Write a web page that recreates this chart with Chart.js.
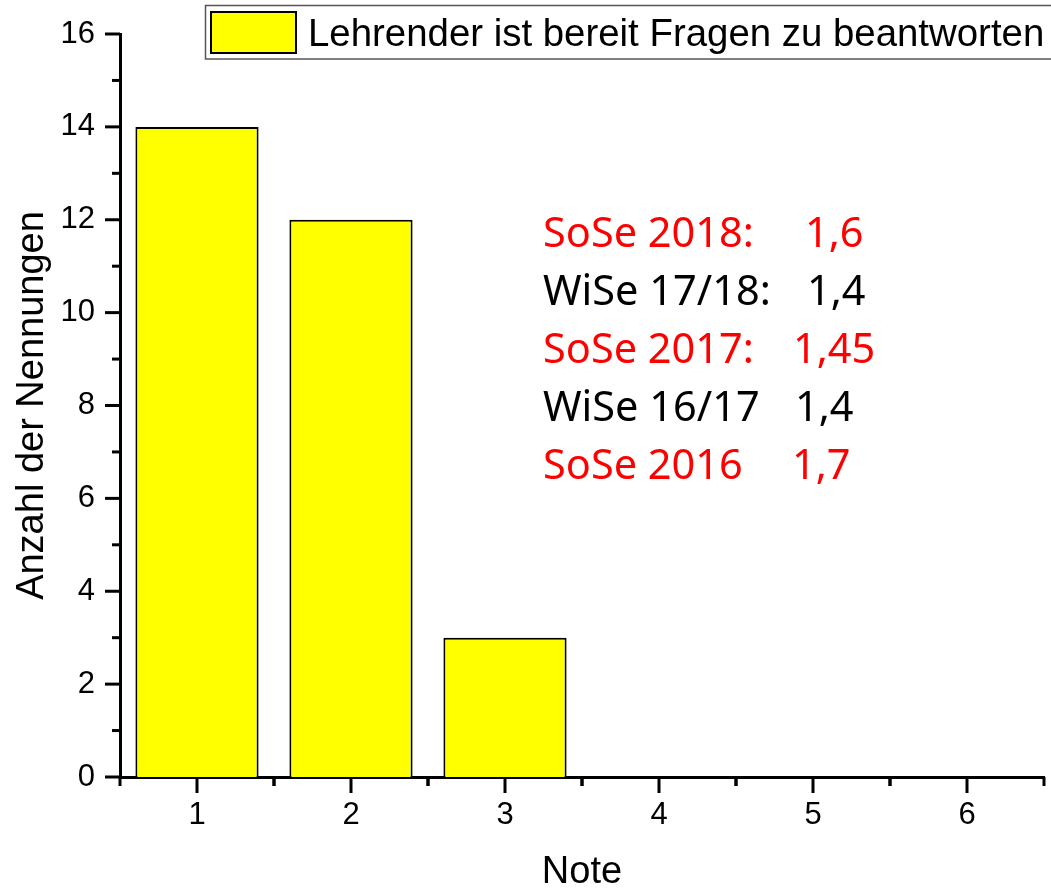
<!DOCTYPE html>
<html>
<head>
<meta charset="utf-8">
<script src="https://cdn.jsdelivr.net/npm/chart.js@4"></script>
<style>
  html, body { margin: 0; padding: 0; background: #fff; }
  #wrap { width: 1051px; height: 893px; }
</style>
</head>
<body>
<div id="wrap"><canvas id="noteChart" width="1051" height="893"></canvas></div>
<script>
// ─── Data ────────────────────────────────────────────
const notes = ["1", "2", "3", "4", "5", "6"];
const counts = [14, 12, 3, 0, 0, 0];
const yMin = 0;
const yMax = 16;
const yStep = 2;
const seriesLabel = "Lehrender ist bereit Fragen zu beantworten";
const xTitle = "Note";
const yTitle = "Anzahl der Nennungen";

// semester averages written inside the plot
const semesters = ["SoSe 2018:", "WiSe 17/18:", "SoSe 2017:", "WiSe 16/17", "SoSe 2016"];
const averages = ["1,6", "1,4", "1,45", "1,4", "1,7"];
const noteColors = ["#ff0000", "#000000", "#ff0000", "#000000", "#ff0000"];

const AXIS_FONT = "'Liberation Sans', Arial, sans-serif";

// ─── Ticks (major + minor), drawn outwards ───────────
const axisTicks = {
  id: "axisTicks",
  afterDraw(chart) {
    const { ctx, scales: { x, y }, chartArea } = chart;
    ctx.save();
    ctx.strokeStyle = "#000";
    ctx.lineWidth = 3;
    ctx.lineCap = "butt";

    // y axis
    for (let v = yMin; v <= yMax; v += yStep / 2) {
      const py = y.getPixelForValue(v);
      const len = v % yStep === 0 ? 15 : 8;
      ctx.beginPath();
      ctx.moveTo(chartArea.left, py);
      ctx.lineTo(chartArea.left - len, py);
      ctx.stroke();
    }

    // x axis: major at each category, minor halfway between
    const half = (x.getPixelForValue(1) - x.getPixelForValue(0)) / 2;
    notes.forEach((n, i) => {
      const px = x.getPixelForValue(i);
      ctx.beginPath();
      ctx.moveTo(px, chartArea.bottom);
      ctx.lineTo(px, chartArea.bottom + 16);
      ctx.stroke();
      [px - half, px + half].forEach(mx => {
        ctx.beginPath();
        ctx.moveTo(mx, chartArea.bottom);
        ctx.lineTo(mx, chartArea.bottom + 9);
        ctx.stroke();
      });
    });
    ctx.restore();
  }
};

// ─── Legend box + annotation text ────────────────────
const extras = {
  id: "extras",
  afterDraw(chart) {
    const { ctx } = chart;
    ctx.save();

    // legend frame (runs off the right edge)
    ctx.strokeStyle = "#555";
    ctx.lineWidth = 1.5;
    ctx.strokeRect(205.5, 5.5, 900, 53.5);

    ctx.fillStyle = "#ffff00";
    ctx.fillRect(211, 12, 85, 41);
    ctx.strokeStyle = "#000";
    ctx.lineWidth = 2;
    ctx.strokeRect(211, 12, 85, 41);

    ctx.fillStyle = "#000";
    ctx.font = "38.4px " + AXIS_FONT;
    ctx.textBaseline = "alphabetic";
    ctx.textAlign = "left";
    ctx.fillText(seriesLabel, 308, 46);

    // semester notes
    const valueX = [805, 807, 793, 795, 792];
    ctx.font = "41.5px 'Noto Sans', 'Open Sans', sans-serif";
    semesters.forEach((s, i) => {
      const base = 247 + i * 58;
      ctx.fillStyle = noteColors[i];
      ctx.fillText(s, 543, base);
      ctx.fillText(averages[i], valueX[i], base);
    });
    ctx.restore();
  }
};

// ─── Chart ───────────────────────────────────────────
const ctx = document.getElementById("noteChart").getContext("2d");
new Chart(ctx, {
  type: "bar",
  data: {
    labels: notes,
    datasets: [{
      label: seriesLabel,
      data: counts,
      backgroundColor: "#ffff00",
      borderColor: "#000",
      borderWidth: 2,
      borderSkipped: "start",
      categoryPercentage: 0.8,
      barPercentage: 1,
    }],
  },
  options: {
    responsive: false,
    animation: false,
    layout: { padding: { top: 34, right: 7, left: 0, bottom: 0 } },
    plugins: { legend: { display: false }, tooltip: { enabled: false } },
    scales: {
      x: {
        offset: true,
        grid: { display: false, drawTicks: false },
        border: { display: true, color: "#000", width: 3 },
        ticks: { color: "#000", padding: 20, font: { family: AXIS_FONT, size: 31 } },
        title: {
          display: true, text: xTitle, color: "#000",
          font: { family: AXIS_FONT, size: 38, lineHeight: 1 },
          padding: { top: 0, bottom: 1 },
        },
        afterFit: s => { s.height = 116; s.paddingLeft = 0; s.paddingRight = 0; },
      },
      y: {
        min: yMin,
        max: yMax,
        ticks: { stepSize: yStep, color: "#000", padding: 25, font: { family: AXIS_FONT, size: 31 } },
        grid: { display: false, drawTicks: false },
        border: { display: true, color: "#000", width: 3 },
        title: {
          display: true, text: yTitle, color: "#000",
          font: { family: AXIS_FONT, size: 38, lineHeight: 1 },
          padding: { top: 14, bottom: 0 },
        },
        afterFit: s => { s.width = 120; s.paddingTop = 0; s.paddingBottom = 0; },
      },
    },
  },
  plugins: [axisTicks, extras],
});
</script>
</body>
</html>
